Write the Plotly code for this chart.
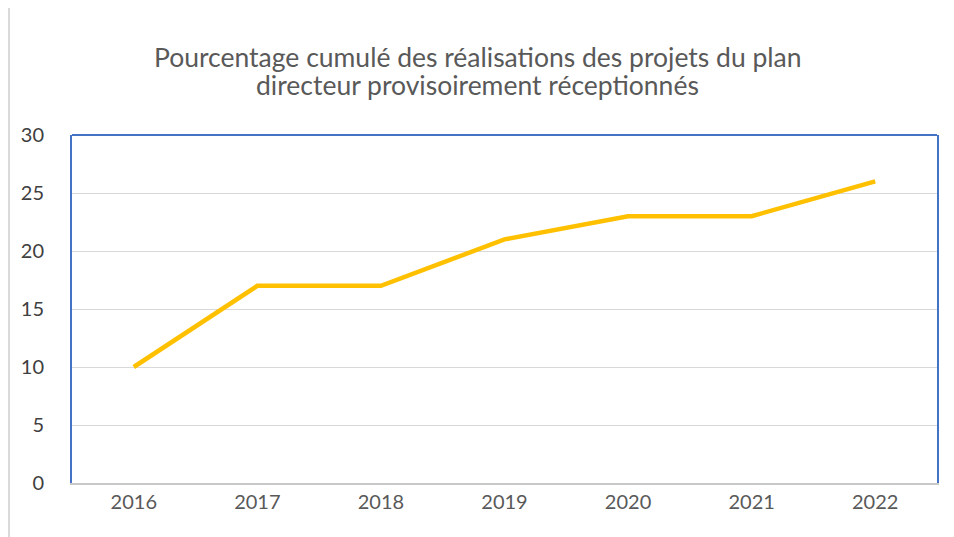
import plotly.graph_objects as go

years = ["2016", "2017", "2018", "2019", "2020", "2021", "2022"]
values = [10, 17, 17, 21, 23, 23, 26]
y_ticks = [0, 5, 10, 15, 20, 25, 30]
title_lines = ["Pourcentage cumulé des réalisations des projets du plan",
               "directeur provisoirement réceptionnés"]

fig = go.Figure()
fig.add_trace(go.Scatter(
    x=years, y=values, mode="lines",
    line=dict(color="#FFC000", width=4.5),
    hoverinfo="x+y",
))

fig.update_layout(
    width=946, height=529,
    margin=dict(l=64, r=17, t=127, b=54),
    paper_bgcolor="white", plot_bgcolor="white",
    font=dict(family="Lato, Noto Sans, sans-serif", color="#595959", size=20),
    showlegend=False,
    xaxis=dict(
        type="category", range=[-0.5, 6.5],
        showgrid=False, showline=True, linecolor="#c8c8c8", linewidth=2,
        ticks="", tickfont=dict(size=20, color="#595959"), fixedrange=True,
    ),
    yaxis=dict(
        range=[0, 30], tickvals=y_ticks, showgrid=True, gridcolor="#d9d9d9", gridwidth=1,
        showline=True, linecolor="#4472C4", linewidth=2, mirror=True,
        ticks="", ticklabelstandoff=22, zeroline=False,
        tickfont=dict(size=20, color="#404040"),
    ),
    annotations=[
        dict(text=title_lines[0], xref="paper", yref="paper", x=0.469, y=1.225,
             xanchor="center", yanchor="middle", showarrow=False,
             font=dict(size=26.5, color="#595959")),
        dict(text=title_lines[1], xref="paper", yref="paper", x=0.469, y=1.143,
             xanchor="center", yanchor="middle", showarrow=False,
             font=dict(size=26.5, color="#595959")),
    ],
    shapes=[
        dict(type="line", xref="paper", yref="paper", x0=0, x1=1, y0=1, y1=1,
             line=dict(color="#4472C4", width=2)),
        dict(type="line", xref="paper", yref="paper", x0=-0.0728, x1=-0.0728, y0=-0.2, y1=1.5,
             line=dict(color="#d9d9d9", width=2)),
    ],
)

fig.write_html("out.html")
